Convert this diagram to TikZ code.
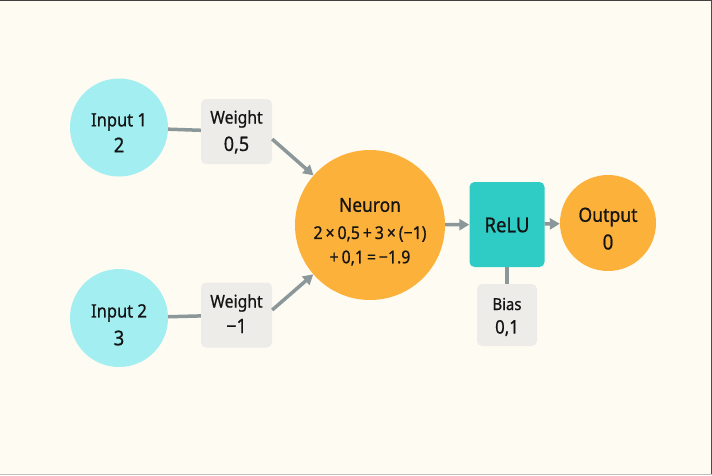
\documentclass[tikz,border=0pt]{standalone}
\usepackage{fontspec}
\setmainfont{Noto Sans}[FakeStretch=0.9, RawFeature={embolden=0.7}]
\usetikzlibrary{arrows.meta,calc}
\definecolor{bg}{HTML}{FEFBF3}
\definecolor{cyanfill}{HTML}{A3EEF1}
\definecolor{orangefill}{HTML}{FCB13A}
\definecolor{tealfill}{HTML}{2ECCC4}
\definecolor{boxgray}{HTML}{EEECE9}
\definecolor{linegray}{HTML}{8C979A}
\definecolor{txt}{HTML}{141414}
\tikzset{
  inputnode/.style={circle, fill=cyanfill, minimum size=98pt, inner sep=0pt},
  neuronnode/.style={circle, fill=orangefill, minimum size=150pt, inner sep=0pt},
  outnode/.style={circle, fill=orangefill, minimum size=96pt, inner sep=0pt},
  valbox/.style={rectangle, rounded corners=5pt, fill=boxgray, minimum width=71pt, minimum height=65pt, inner sep=0pt},
  relubox/.style={rectangle, rounded corners=5pt, fill=tealfill, minimum width=75pt, minimum height=85pt, inner sep=0pt},
  tx/.style={inner sep=0pt, text=txt, anchor=center},
  conn/.style={draw=linegray, line width=3.5pt},
  arr/.style={conn, -{Triangle[length=10pt,width=11pt]}},
}
\newcommand{\fs}[1]{\fontsize{#1}{#1}\selectfont}
\begin{document}
\begin{tikzpicture}[x=1pt,y=-1pt]
\fill[bg] (0,0) rectangle (712,475);
\useasboundingbox (0,0) rectangle (712,475);
\draw[color=black!75, line width=1pt] (0,0.5) -- (712,0.5);
\draw[color=black!70, line width=1pt] (711.5,0) -- (711.5,475);
\draw[color=black!25, line width=1pt] (0,474.5) -- (712,474.5);

\node[inputnode] (in1) at (119,127.5) {};
\node[tx] (in1a) at (119,122) {\fs{18.3}Input 1};
\node[tx] (in1b) at (119,145) {\fs{20.5}2};

\node[inputnode] (in2) at (119,318) {};
\node[tx] (in2a) at (119,313) {\fs{18.3}Input 2};
\node[tx] (in2b) at (119,338) {\fs{20.5}3};

\node[valbox] (w1) at (236.5,131.5) {};
\node[tx] (w1a) at (236.5,119) {\fs{17.5}Weight};
\node[tx] (w1b) at (236.5,145) {\fs{20}0,5};

\node[valbox] (w2) at (236.5,315) {};
\node[tx] (w2a) at (236.5,303) {\fs{17.5}Weight};
\node[tx] (w2b) at (236.5,326) {\fs{20}−1};

\node[neuronnode] (neu) at (370,225) {};
\node[tx] (neua) at (370,205) {\fs{19.3}Neuron};
\node[tx] (neub) at (370,234) {\fs{17.6}2\,×\,0,5\,+\,3\,×\,(−1)};
\node[tx] (neuc) at (370,258) {\fs{17.6}+\,0,1\,=\,−1.9};

\node[relubox] (relu) at (507,224.5) {};
\node[tx] (relua) at (507,225) {\fs{20.6}ReLU};

\node[outnode] (out) at (608,223) {};
\node[tx] (outa) at (608,217) {\fs{19.6}Output};
\node[tx] (outb) at (608,242) {\fs{21}0};

\node[valbox, minimum width=60pt, minimum height=62pt] (bias) at (507,315) {};
\node[tx] (biasa) at (507,304) {\fs{16.5}Bias};
\node[tx] (biasb) at (507,328) {\fs{18.7}0,1};

\draw[conn] (in1) -- (w1);
\draw[conn] (in2) -- (w2);
\draw[arr] (w1.-12) -- (neu);
\draw[arr] (w2.8) -- (neu);
\draw[arr] (neu) -- (relu);
\draw[arr] (relu) -- (out);
\draw[conn] (relu) -- (bias);
\end{tikzpicture}
\end{document}
